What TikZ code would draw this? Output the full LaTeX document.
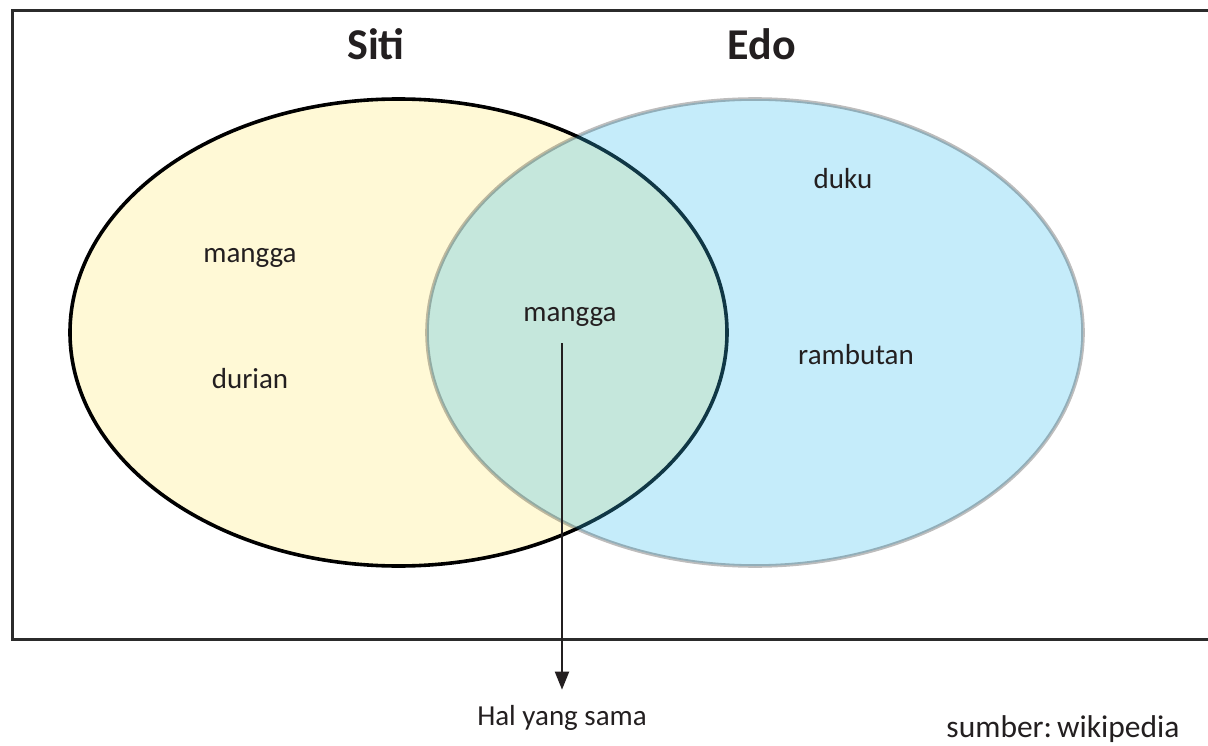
\documentclass[tikz,border=0pt]{standalone}
\usepackage{fontspec}
\setmainfont{Carlito}
\usetikzlibrary{arrows.meta}
\definecolor{sitiyellow}{RGB}{255,249,214}
\definecolor{edoblue}{RGB}{58,190,238}
\definecolor{frame}{RGB}{43,43,43}
\definecolor{txt}{RGB}{35,31,32}
\tikzset{
  lbl/.style={anchor=base, inner sep=0pt, text=txt, font=\fontsize{29}{30}\selectfont},
  title/.style={anchor=base, inner sep=0pt, text=txt, font=\fontsize{44}{46}\selectfont\bfseries},
  arr/.style={draw=txt, line width=2pt, -{Triangle[length=18pt,width=14pt]}},
}
\begin{document}
\begin{tikzpicture}[x=1pt,y=-1pt]
\useasboundingbox (0,0) rectangle (1208,746);
\fill[white] (0,0) rectangle (1208,746);
\begin{scope}
\clip (0,0) rectangle (1208,746);
\draw[frame, line width=3pt] (1215,11) -- (12,11) -- (12,639) -- (1215,639);
\end{scope}
% Siti set
\fill[sitiyellow] (398.5,332.5) ellipse [x radius=328.5, y radius=233.5];
\draw[black, line width=3.6pt] (398.5,332.5) ellipse [x radius=328.5, y radius=233.5];
% Edo set
\fill[edoblue, fill opacity=0.29] (755,332.5) ellipse [x radius=328, y radius=233.5];
\draw[black, draw opacity=0.26, line width=3.6pt] (755,332.5) ellipse [x radius=328, y radius=233.5];
% titles
\node[title] (siti) at (376,60) {Siti};
\node[title] (edo) at (762,60) {Edo};
% items
\node[lbl] (m1) at (250,262) {mangga};
\node[lbl] (dur) at (250,388) {durian};
\node[lbl] (m2) at (570,321) {mangga};
\node[lbl] (duku) at (843,189) {duku};
\node[lbl] (ram) at (856,364) {rambutan};
\node[lbl] (hal) at (562,725) {Hal yang sama};
\node[lbl, font=\fontsize{31.5}{33}\selectfont] (src) at (1063,737) {sumber:\hspace{5pt}wikipedia};
\coordinate (a0) at (562,343);
\draw[arr] (a0) -- ([yshift=15pt]a0 |- hal.north);
\end{tikzpicture}
\end{document}
